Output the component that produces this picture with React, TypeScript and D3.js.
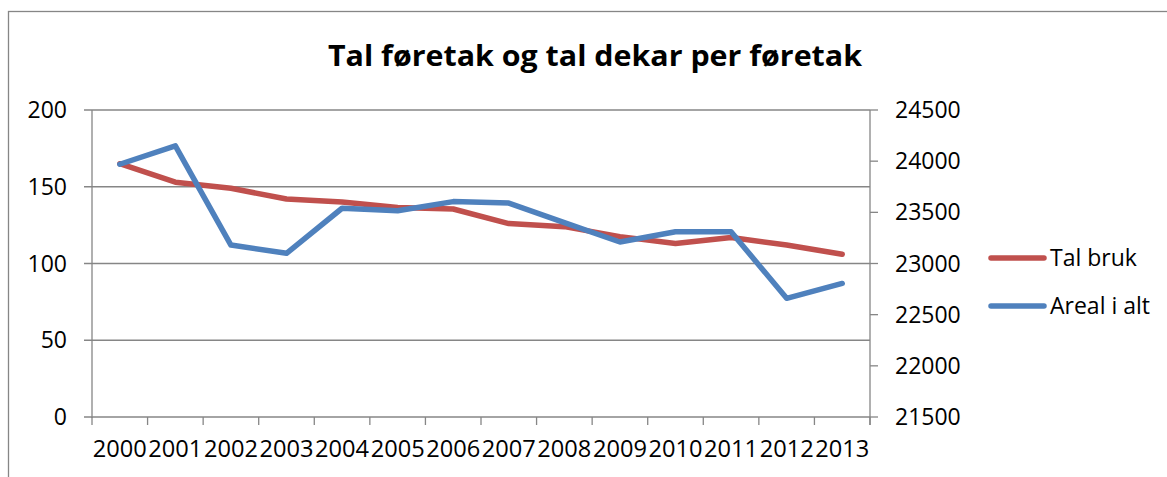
import React from 'react';
import * as d3 from 'd3';

const years = ['2000', '2001', '2002', '2003', '2004', '2005', '2006', '2007', '2008', '2009', '2010', '2011', '2012', '2013'];
const talBruk = [165, 153, 149, 142, 140, 136.5, 135.5, 126, 124, 117.5, 113, 117, 112, 106];
const arealIAlt = [23970, 24150, 23180, 23100, 23540, 23515, 23605, 23590, 23400, 23210, 23310, 23310, 22660, 22805];
const leftTicks = [0, 50, 100, 150, 200];
const rightTicks = [21500, 22000, 22500, 23000, 23500, 24000, 24500];
const seriesNames = ['Tal bruk', 'Areal i alt'];
const seriesColors = ['#C0504D', '#4F81BD'];

const W = 1167;
const H = 477;
const FONT = '"Open Sans", sans-serif';

export default function App() {
  const left = 92, right = 870, top = 110, bottom = 417;

  const x = d3.scaleBand().domain(years).range([left, right]);
  const yL = d3.scaleLinear().domain([0, 200]).range([bottom, top]);
  const yR = d3.scaleLinear().domain([21500, 24500]).range([bottom, top]);
  const cx = (d: string) => (x(d) || 0) + x.bandwidth() / 2;

  const lineL = d3.line<number>().x((d, i) => cx(years[i])).y(d => yL(d));
  const lineR = d3.line<number>().x((d, i) => cx(years[i])).y(d => yR(d));

  const grey = '#868686';
  const boundaries = years.map(d => x(d) || 0).concat([right]);

  return (
    <svg width={W} height={H} style={{ position: 'absolute', left: 0, top: 0, background: '#fff' }}>
      <rect x={8.5} y={11.5} width={W + 10} height={H + 10} fill="#fff" stroke={grey} strokeWidth={1.3} />
      <text x={595} y={66} textAnchor="middle" fontFamily={FONT} fontWeight="bold" fontSize={28}
        textLength={534} lengthAdjust="spacingAndGlyphs">Tal føretak og tal dekar per føretak</text>

      {leftTicks.map(t => (
        <g key={'l' + t}>
          <line x1={left - 8} x2={right} y1={yL(t)} y2={yL(t)} stroke={grey} strokeWidth={1.3} />
          <text x={67} y={yL(t)} dy="0.35em" textAnchor="end" fontFamily={FONT} fontSize={23}>{t}</text>
        </g>
      ))}

      <line x1={left} x2={left} y1={top} y2={bottom + 1} stroke={grey} strokeWidth={1.3} />
      <line x1={right} x2={right} y1={top} y2={bottom + 8} stroke={grey} strokeWidth={1.3} />

      {rightTicks.map(t => (
        <g key={'r' + t}>
          <line x1={right} x2={right + 8} y1={yR(t)} y2={yR(t)} stroke={grey} strokeWidth={1.3} />
          <text x={895} y={yR(t)} dy="0.35em" textAnchor="start" fontFamily={FONT} fontSize={23}>{t}</text>
        </g>
      ))}

      {boundaries.map((b, i) => (
        <line key={'b' + i} x1={b} x2={b} y1={bottom} y2={bottom + 8} stroke={grey} strokeWidth={1.3} />
      ))}
      {years.map(y => (
        <text key={y} x={cx(y)} y={457} textAnchor="middle" fontFamily={FONT} fontSize={23}
          textLength={54} lengthAdjust="spacingAndGlyphs">{y}</text>
      ))}

      <path d={lineL(talBruk) || ''} fill="none" stroke={seriesColors[0]} strokeWidth={5.5} strokeLinejoin="round" strokeLinecap="round" />
      <path d={lineR(arealIAlt) || ''} fill="none" stroke={seriesColors[1]} strokeWidth={5.5} strokeLinejoin="round" strokeLinecap="round" />

      {seriesNames.map((n, i) => (
        <g key={n}>
          <line x1={991} x2={1044} y1={258 + i * 48} y2={258 + i * 48} stroke={seriesColors[i]} strokeWidth={5.5} strokeLinecap="round" />
          <text x={1050} y={258 + i * 48} dy="0.35em" fontFamily={FONT} fontSize={23}>{n}</text>
        </g>
      ))}
    </svg>
  );
}
